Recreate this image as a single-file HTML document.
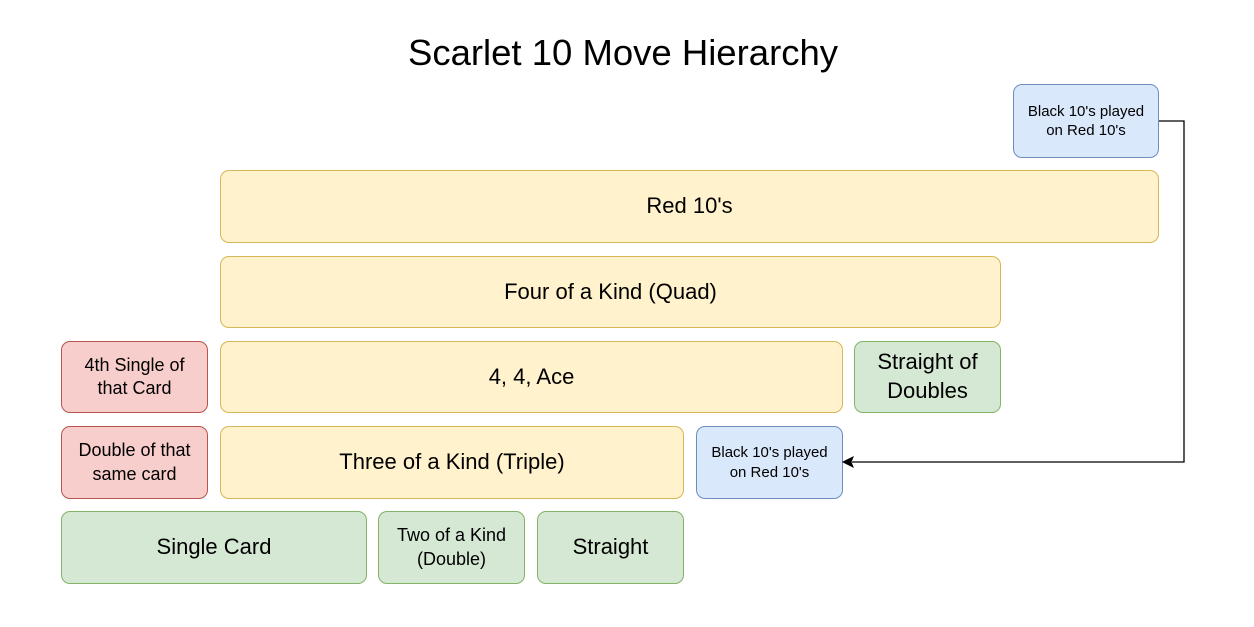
<!DOCTYPE html>
<html><head><style>
body{margin:0;background:#fff;width:1254px;height:627px;position:relative;overflow:hidden;font-family:"Liberation Sans",Helvetica,Arial,sans-serif}
.b{position:absolute;box-sizing:border-box;border:1px solid;border-radius:9px;display:flex;align-items:center;justify-content:center;text-align:center;color:#000;line-height:1.3}
.y{background:#fff2cc;border-color:#d6b656}
.r{background:#f8cecc;border-color:#b85450}
.g{background:#d5e8d4;border-color:#82b366}
.u{background:#dae8fc;border-color:#6c8ebf}
.L{font-size:22px}.M{font-size:18px}.S{font-size:15px}
</style></head><body>
<div style="position:absolute;left:0;width:1246px;top:32px;text-align:center;font-size:36.5px">Scarlet 10 Move Hierarchy</div>
<div class="b u S" style="left:1013px;top:84px;width:146px;height:74px">Black 10's played<br>on Red 10's</div>
<div class="b y L" style="left:220px;top:170px;width:939px;height:73px">Red 10's</div>
<div class="b y L" style="left:220px;top:256px;width:781px;height:72px">Four of a Kind (Quad)</div>
<div class="b r M" style="left:61px;top:341px;width:147px;height:72px">4th Single of<br>that Card</div>
<div class="b y L" style="left:220px;top:341px;width:623px;height:72px">4, 4, Ace</div>
<div class="b g L" style="left:854px;top:341px;width:147px;height:72px">Straight of<br>Doubles</div>
<div class="b r M" style="left:61px;top:426px;width:147px;height:73px">Double of that<br>same card</div>
<div class="b y L" style="left:220px;top:426px;width:464px;height:73px">Three of a Kind (Triple)</div>
<div class="b u S" style="left:696px;top:426px;width:147px;height:73px">Black 10's played<br>on Red 10's</div>
<div class="b g L" style="left:61px;top:511px;width:306px;height:73px">Single Card</div>
<div class="b g M" style="left:378px;top:511px;width:147px;height:73px">Two of a Kind<br>(Double)</div>
<div class="b g L" style="left:537px;top:511px;width:147px;height:73px">Straight</div>
<svg style="position:absolute;left:0;top:0" width="1254" height="627">
<path d="M1159 121 H1184 V462 H852" fill="none" stroke="#000" stroke-width="1.3"/>
<path d="M843 462 L853 457 L851 462 L853 467 Z" fill="#000" stroke="#000"/>
</svg>
</body></html>
